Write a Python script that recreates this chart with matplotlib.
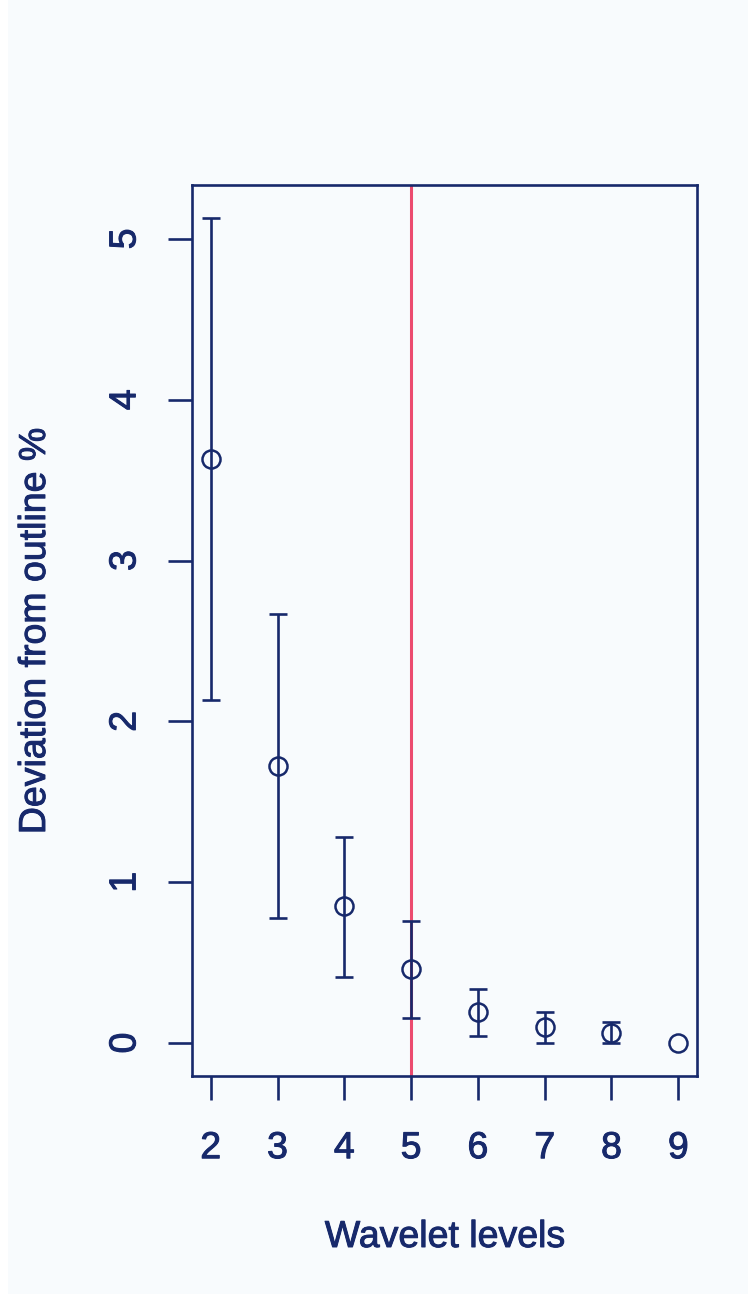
import matplotlib
matplotlib.use("Agg")
import matplotlib.pyplot as plt
from matplotlib.patches import Rectangle
import matplotlib.patheffects as pe

# Data
levels = [2, 3, 4, 5, 6, 7, 8, 9]
means = [3.63, 1.72, 0.85, 0.46, 0.195, 0.098, 0.064, 0.0]
upper = [5.13, 2.67, 1.28, 0.76, 0.336, 0.195, 0.129, 0.0]
lower = [2.13, 0.78, 0.41, 0.155, 0.046, 0.002, 0.0, 0.0]
cutoff_level = 5
xticks = [2, 3, 4, 5, 6, 7, 8, 9]
yticks = [0, 1, 2, 3, 4, 5]

NAVY = "#17296b"
RED = "#ec4b6f"
BG = "#f8fbfd"

plt.rcParams['font.family'] = ['Liberation Sans', 'DejaVu Sans']

W, H = 748, 1294
fig = plt.figure(figsize=(W / 100, H / 100), dpi=100)
fig.patch.set_facecolor(BG)
# white strip at the left edge
fig.patches.append(Rectangle((0, 0), 8 / W, 1, transform=fig.transFigure,
                             facecolor="white", edgecolor="none", zorder=0))

left, right, top, bottom = 192, 697, 185, 1076
ax = fig.add_axes([left / W, 1 - bottom / H, (right - left) / W, (bottom - top) / H])
ax.set_facecolor(BG)

ax.axvline(cutoff_level, color=RED, lw=2.2, zorder=1)

# error bars (only where there is a spread)
for x, m, u, l in zip(levels, means, upper, lower):
    if u - l > 0:
        ax.errorbar([x], [m], yerr=[[m - l], [u - m]], fmt='none', ecolor=NAVY,
                    elinewidth=1.9, capsize=6.5, capthick=1.9, zorder=2)
ax.plot(levels, means, linestyle='none', marker='o', markersize=13,
        markerfacecolor='none', markeredgecolor=NAVY, markeredgewidth=1.8, zorder=3)

ax.set_xlim(1.72, 9.28)
ax.set_ylim(-0.205, 5.335)
ax.set_xticks(xticks)
ax.set_yticks(yticks)
ax.set_xticklabels([str(v) for v in xticks])
ax.set_yticklabels([str(v) for v in yticks], rotation=90, va='center')

for s in ax.spines.values():
    s.set_color(NAVY)
    s.set_linewidth(1.9)
ax.tick_params(axis='both', direction='out', length=17, width=1.9, color=NAVY,
               labelcolor=NAVY, labelsize=27)
ax.tick_params(axis='x', pad=22)
ax.tick_params(axis='y', pad=18)

thick = [pe.withStroke(linewidth=0.7, foreground=NAVY)]
for t in ax.get_xticklabels() + ax.get_yticklabels():
    t.set_path_effects(thick)

fig.text(445 / W, 1 - 1237 / H, "Wavelet levels", ha='center', va='center',
         fontsize=27, color=NAVY, path_effects=thick)
fig.text(35 / W, 1 - 631 / H, "Deviation from outline %", ha='center', va='center',
         rotation=90, fontsize=27, color=NAVY, path_effects=thick)

fig.savefig("out.png", dpi=100, facecolor=BG)
